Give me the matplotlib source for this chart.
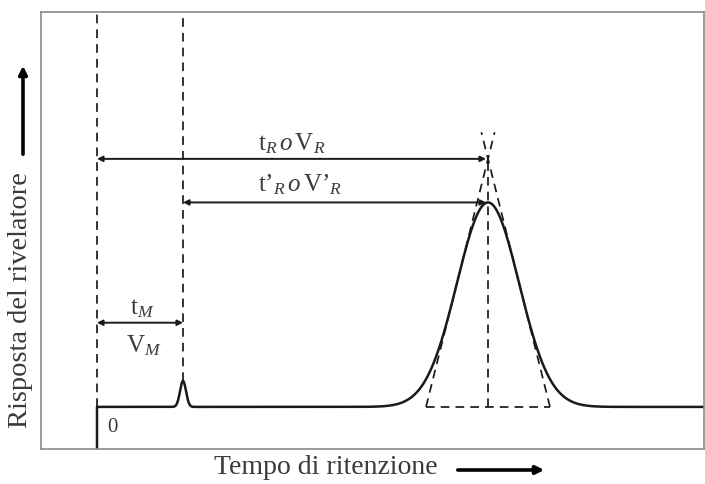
import numpy as np
import matplotlib.pyplot as plt
from matplotlib.patches import FancyArrowPatch

plt.rcParams['font.family'] = 'Liberation Serif'
plt.rcParams['mathtext.fontset'] = 'custom'
plt.rcParams['mathtext.rm'] = 'Liberation Serif'
plt.rcParams['mathtext.it'] = 'Liberation Serif:italic'

# Chromatogram parameters (arbitrary units)
t_M = 8.6          # dead time (unretained peak)
t_R = 39.1         # retention time of the analyte
sigma_M = 0.3      # width of the unretained peak
sigma_R = 3.1      # width of the analyte peak
h_M = 0.26         # height of the unretained peak
h_R = 2.04         # height of the analyte peak
x_limits = [-5.6, 60.7]
y_limits = [-0.42, 3.94]

label_tR = r'$\mathrm{t}_{R}\,\mathit{o}\,\mathrm{V}_{R}$'
label_tR1 = '$\\mathrm{t\u2019}_{R}\\,\\mathit{o}\\,\\mathrm{V\u2019}_{R}$'
label_tM = r'$\mathrm{t}_{M}$'
label_VM = r'$\mathrm{V}_{M}$'
xlabel = 'Tempo di ritenzione'
ylabel = 'Risposta del rivelatore'

ink = '#1a1a1a'
txt = '#3a3a3a'

fig = plt.figure(figsize=(7.05, 4.84), dpi=100)
ax = fig.add_axes([41 / 705, 35 / 484, 663 / 705, 437 / 484])
ax.set_xlim(x_limits)
ax.set_ylim(y_limits)
ax.set_xticks([])
ax.set_yticks([])
for s in ax.spines.values():
    s.set_color('#8a8a8a')
    s.set_linewidth(1.2)

# signal
t = np.linspace(0, x_limits[1], 3000)
signal = h_M * np.exp(-0.5 * ((t - t_M) / sigma_M) ** 2) + h_R * np.exp(-0.5 * ((t - t_R) / sigma_R) ** 2)
t = np.concatenate([[0], t])
signal = np.concatenate([[y_limits[0]], signal])
ax.plot(t, signal, color=ink, lw=1.8, solid_joinstyle='round')

dash = dict(color=ink, lw=1.25, ls=(0, (5, 3.5)))

# tangents at inflection points
apex = 2 * h_R * np.exp(-0.5)
foot_l = t_R - 2 * sigma_R
foot_r = t_R + 2 * sigma_R
slope = apex / (2 * sigma_R)
top = 2.74
ext = (top - apex) / slope
ax.plot([foot_l, t_R + ext], [0, top], **dash)
ax.plot([foot_r, t_R - ext], [0, top], **dash)
ax.plot([foot_l, foot_r], [0, 0], **dash)
ax.plot([t_R, t_R], [0, apex], **dash)

# vertical markers at injection and dead time
ax.plot([0, 0], [0, y_limits[1]], **dash)
ax.plot([t_M, t_M], [h_M, y_limits[1]], **dash)

arrow = dict(arrowstyle='<|-|>', color=ink, lw=1.4, mutation_scale=8, shrinkA=0, shrinkB=0)
ax.annotate('', xy=(0, apex), xytext=(t_R - 0.2, apex), arrowprops=arrow)
ax.annotate('', xy=(t_M, h_R), xytext=(t_R - 0.2, h_R), arrowprops=arrow)
ax.annotate('', xy=(0, 0.84), xytext=(t_M, 0.84), arrowprops=arrow)

ax.text(19.5, 2.63, label_tR, fontsize=18, color=txt, ha='center', va='center')
ax.text(20.3, 2.22, label_tR1, fontsize=18, color=txt, ha='center', va='center')
ax.text(4.5, 0.98, label_tM, fontsize=18, color=txt, ha='center', va='center')
ax.text(4.7, 0.61, label_VM, fontsize=18, color=txt, ha='center', va='center')
ax.text(1.5, -0.21, '0', fontsize=15, color=txt, ha='center', va='center')

# axis labels with arrows
fig.text(326 / 705, 1 - 467 / 484, xlabel, fontsize=20, color=txt, ha='center', va='center')
fig.text(21 / 705, 1 - 300 / 484, ylabel, fontsize=20.5, color=txt, ha='center', va='center', rotation=90)
fig.patches.append(FancyArrowPatch(
    (455 / 705, 1 - 470 / 484), (547 / 705, 1 - 470 / 484), transform=fig.transFigure,
    arrowstyle='-|>', mutation_scale=12, lw=2.6, color='black'))
fig.patches.append(FancyArrowPatch(
    (23 / 705, 1 - 157 / 484), (23 / 705, 1 - 63 / 484), transform=fig.transFigure,
    arrowstyle='-|>', mutation_scale=12, lw=2.6, color='black'))

fig.savefig('out.png', dpi=100)
